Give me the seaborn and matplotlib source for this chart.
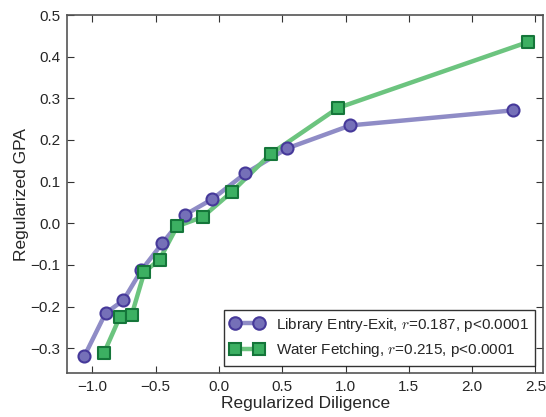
import matplotlib
matplotlib.use('Agg')
import matplotlib.pyplot as plt
from matplotlib.lines import Line2D
import pandas as pd
import seaborn as sns

# values
lib_x = [-1.064, -0.897, -0.756, -0.614, -0.448, -0.265, -0.053, 0.209, 0.54, 1.038, 2.32]
lib_y = [-0.319, -0.216, -0.185, -0.113, -0.048, 0.021, 0.058, 0.12, 0.18, 0.235, 0.271]
water_x = [-0.91, -0.785, -0.69, -0.59, -0.47, -0.33, -0.13, 0.10, 0.41, 0.94, 2.44]
water_y = [-0.312, -0.226, -0.22, -0.117, -0.087, -0.007, 0.015, 0.075, 0.167, 0.277, 0.435]

lib_label = r'Library Entry-Exit, $r$=0.187, p<0.0001'
water_label = r'Water Fetching, $r$=0.215, p<0.0001'

sns.set_style('ticks')
plt.rcParams['font.family'] = ['Liberation Sans', 'DejaVu Sans']
plt.rcParams['mathtext.fontset'] = 'cm'

df_lib = pd.DataFrame({'x': lib_x, 'y': lib_y})
df_water = pd.DataFrame({'x': water_x, 'y': water_y})

fig = plt.figure(figsize=(5.46, 4.17), dpi=100)
ax = fig.add_axes([0.123, 0.105, 0.8715, 0.859])

series = [
    (df_lib, 'o', '#8f8cc6', '#7570b8', '#46399a', lib_label),
    (df_water, 's', '#6cc47f', '#3cb062', '#15763a', water_label),
]
handles = []
for d, m, lc, fc, ec, lab in series:
    sns.lineplot(data=d, x='x', y='y', sort=False, color=lc, lw=3.2, ax=ax, zorder=2)
    sns.scatterplot(data=d, x='x', y='y', marker=m, s=75, color=fc,
                    edgecolor=ec, linewidth=1.5, ax=ax, zorder=3)
    handles.append(Line2D([], [], color=lc, lw=3.2, marker=m, markersize=9,
                          markerfacecolor=fc, markeredgecolor=ec, markeredgewidth=1.5))

ax.set_xlim(-1.2, 2.56)
ax.set_ylim(-0.36, 0.5)
ax.set_xticks([-1.0, -0.5, 0.0, 0.5, 1.0, 1.5, 2.0, 2.5])
ax.set_yticks([-0.3, -0.2, -0.1, 0.0, 0.1, 0.2, 0.3, 0.4, 0.5])
ax.tick_params(direction='in', top=True, right=True, length=5, labelsize=11,
               color='#333333', pad=5)
for s in ax.spines.values():
    s.set_color('#555555')
    s.set_linewidth(1.2)

ax.set_xlabel('Regularized Diligence', fontsize=12.5, labelpad=1)
ax.set_ylabel('Regularized GPA', fontsize=12.5, labelpad=1)

leg = ax.legend(handles, [lib_label, water_label], loc='lower right', fontsize=11,
                fancybox=False, frameon=True, edgecolor='black', handlelength=2.2,
                numpoints=2, borderaxespad=0.5)
leg.get_frame().set_linewidth(1.0)

fig.savefig('out.png', dpi=100)
